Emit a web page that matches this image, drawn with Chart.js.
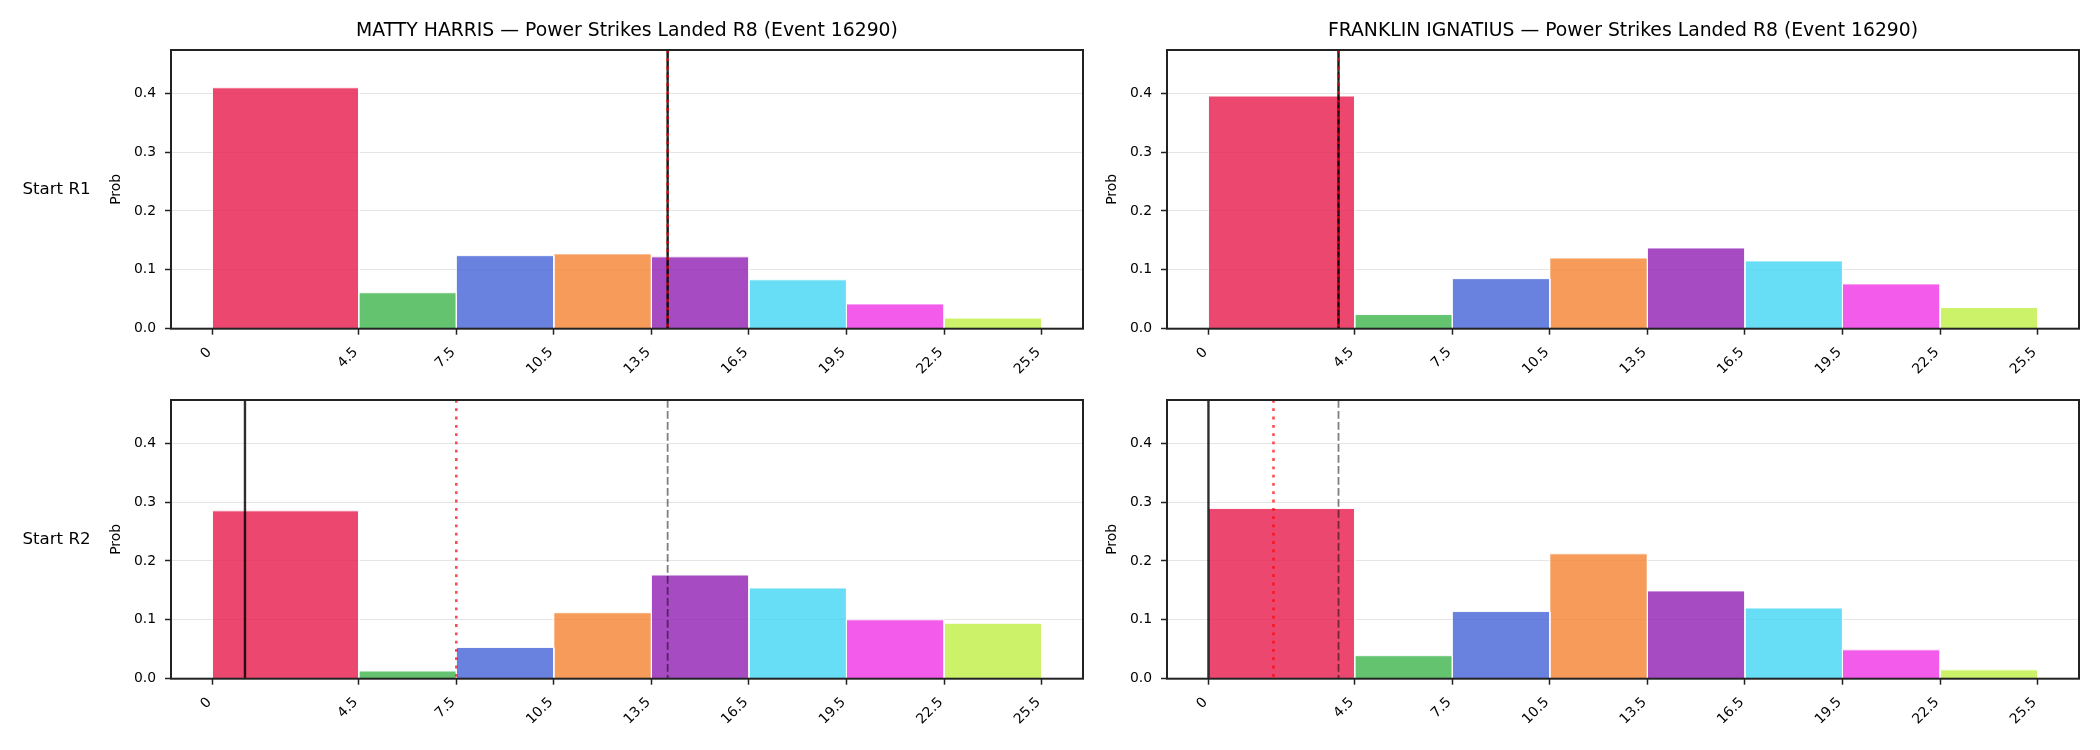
<!DOCTYPE html>
<html>
<head>
<meta charset="utf-8">
<script src="https://cdn.jsdelivr.net/npm/chart.js@4.4.1/dist/chart.umd.min.js"></script>
<style>
  html, body { margin: 0; padding: 0; background: #fff; }
  #wrap { position: relative; width: 2100px; height: 750px; overflow: hidden; }
  canvas { position: absolute; }
</style>
</head>
<body>
<div id="wrap">
  <canvas id="c_tl" width="1100" height="375" style="left:0;top:0"></canvas>
  <canvas id="c_tr" width="1000" height="375" style="left:1100px;top:0"></canvas>
  <canvas id="c_bl" width="1100" height="375" style="left:0;top:375px"></canvas>
  <canvas id="c_br" width="1000" height="375" style="left:1100px;top:375px"></canvas>
</div>
<script>
// bins (strike counts) and tick labels
const binEdges = [0, 4.5, 7.5, 10.5, 13.5, 16.5, 19.5, 22.5, 25.5];
const xTickLabels = ["0", "4.5", "7.5", "10.5", "13.5", "16.5", "19.5", "22.5", "25.5"];
const yTickValues = [0, 0.1, 0.2, 0.3, 0.4];

const fighters = ["MATTY HARRIS", "FRANKLIN IGNATIUS"];
const rowLabels = ["Start R1", "Start R2"];

// probability per bin
const probHarrisR1    = [0.409, 0.061, 0.124, 0.127, 0.122, 0.083, 0.042, 0.018];
const probIgnatiusR1  = [0.395, 0.024, 0.085, 0.120, 0.137, 0.115, 0.076, 0.036];
const probHarrisR2    = [0.285, 0.013, 0.053, 0.112, 0.176, 0.154, 0.100, 0.094];
const probIgnatiusR2  = [0.289, 0.039, 0.114, 0.212, 0.149, 0.120, 0.049, 0.015];

// vertical markers: solid black, red dotted, grey dashed
const markSolid  = { tl: 14, tr: 4, bl: 1,   br: 0 };
const markDotted = { tl: 14, tr: 4, bl: 7.5, br: 2 };
const markDashed = { tl: 14, tr: 4, bl: 14,  br: 4 };

const BIN_COLORS = ["#e6194b", "#3cb44b", "#4363d8", "#f58231", "#911eb4", "#42d4f4", "#f032e6", "#bfef45"];
const FONT = "DejaVu Sans";

function withAlpha(hex, a){
  const n = parseInt(hex.slice(1), 16);
  return `rgba(${(n >> 16) & 255},${(n >> 8) & 255},${n & 255},${a})`;
}

const panelPlugin = {
  id: "panelExtras",
  afterDatasetsDraw(chart, args, o){
    const { ctx, chartArea: a, scales: { x } } = chart;
    ctx.save();
    ctx.beginPath(); ctx.rect(a.left, a.top, a.width, a.height); ctx.clip();
    const vline = (v, color, w, dash) => {
      const px = x.getPixelForValue(v);
      ctx.beginPath();
      ctx.setLineDash(dash);
      ctx.strokeStyle = color; ctx.lineWidth = w;
      ctx.moveTo(px, a.top); ctx.lineTo(px, a.bottom);
      ctx.stroke();
    };
    vline(o.dashed, "rgba(0,0,0,0.5)", 1.8, [7.7, 3.3]);
    vline(o.solid, "rgba(0,0,0,0.82)", 2.4, []);
    vline(o.dotted, "rgba(255,0,0,0.7)", 2.6, [2.8, 5.5]);
    ctx.restore();

    // frame
    ctx.save();
    ctx.strokeStyle = "#222"; ctx.lineWidth = 2;
    ctx.strokeRect(a.left, a.top, a.width, a.height);
    ctx.restore();

    if (o.rowLabel){
      ctx.save();
      ctx.font = `16.67px "${FONT}"`;
      ctx.fillStyle = "#000";
      ctx.textAlign = "center";
      ctx.textBaseline = "middle";
      ctx.fillText(o.rowLabel, 56.5, (a.top + a.bottom) / 2);
      ctx.restore();
    }
  }
};

function makePanel(id, probs, key, opt){
  const datasets = probs.map((p, i) => ({
    data: [
      { x: binEdges[i], y: 0 }, { x: binEdges[i], y: p },
      { x: binEdges[i + 1], y: p }, { x: binEdges[i + 1], y: 0 }
    ],
    backgroundColor: withAlpha(BIN_COLORS[i], 0.8),
    borderColor: "rgba(255,255,255,0.9)",
    borderWidth: 1,
    fill: "origin",
    pointRadius: 0,
    pointHoverRadius: 0,
    tension: 0
  }));

  return new Chart(document.getElementById(id), {
    type: "line",
    data: { datasets },
    options: {
      responsive: false,
      animation: false,
      events: [],
      layout: { padding: { top: opt.padTop, right: opt.padRight, left: 0, bottom: 0 } },
      plugins: {
        legend: { display: false },
        tooltip: { enabled: false },
        title: {
          display: !!opt.title,
          text: opt.title || "",
          fullSize: false,
          color: "#000",
          font: { family: FONT, size: 18.8, weight: "normal" },
          padding: { top: 0, bottom: 8 }
        },
        panelExtras: {
          solid: markSolid[key], dotted: markDotted[key], dashed: markDashed[key],
          rowLabel: opt.rowLabel
        }
      },
      scales: {
        x: {
          type: "linear",
          min: -1.275, max: 26.775,
          afterBuildTicks: s => { s.ticks = binEdges.map(v => ({ value: v })); },
          afterFit: s => { s.height = opt.xHeight; },
          ticks: {
            autoSkip: false, minRotation: 45, maxRotation: 45,
            padding: 9.5, labelOffset: -3,
            color: "#000", font: { family: FONT, size: 13.9 },
            callback: (v, i) => xTickLabels[i]
          },
          grid: { drawOnChartArea: false, drawTicks: true, tickLength: 6, tickColor: "#222", tickWidth: 1.5 },
          border: { display: false }
        },
        y: {
          min: 0, max: 0.4732,
          afterBuildTicks: s => { s.ticks = yTickValues.map(v => ({ value: v })); },
          afterFit: s => { s.width = opt.yWidth; },
          ticks: {
            padding: 9,
            color: "#000", font: { family: FONT, size: 13.9 },
            callback: v => v.toFixed(1)
          },
          grid: { color: "#e5e5e5", lineWidth: 1, tickLength: 6, tickColor: "#222", tickWidth: 1.5 },
          border: { display: false },
          title: {
            display: true, text: "Prob", color: "#000",
            font: { family: FONT, size: 13.9 },
            padding: { top: opt.probPad, bottom: 0 }
          }
        }
      }
    },
    plugins: [panelPlugin]
  });
}

const suffix = " \u2014 Power Strikes Landed R8 (Event 16290)";

makePanel("c_tl", probHarrisR1, "tl", {
  title: fighters[0] + suffix, rowLabel: rowLabels[0],
  padTop: 19.44, padRight: 17, xHeight: 46.3, yWidth: 171, probPad: 108.2
});
makePanel("c_tr", probIgnatiusR1, "tr", {
  title: fighters[1] + suffix,
  padTop: 19.44, padRight: 21, xHeight: 46.3, yWidth: 67, probPad: 4.2
});
makePanel("c_bl", probHarrisR2, "bl", {
  rowLabel: rowLabels[1],
  padTop: 25, padRight: 17, xHeight: 71.3, yWidth: 171, probPad: 108.2
});
makePanel("c_br", probIgnatiusR2, "br", {
  padTop: 25, padRight: 21, xHeight: 71.3, yWidth: 67, probPad: 4.2
});
</script>
</body>
</html>
